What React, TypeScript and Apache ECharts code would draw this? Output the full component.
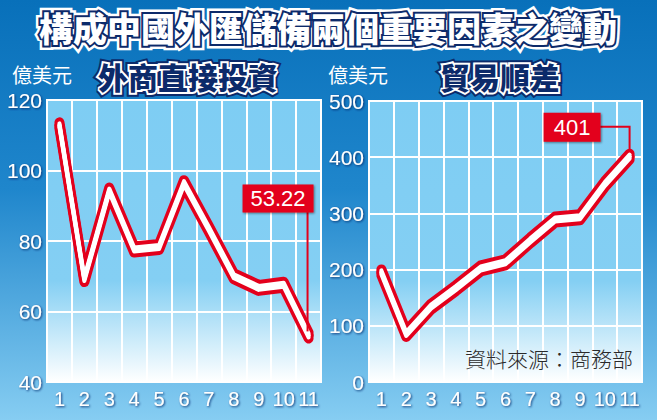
import React, { useEffect, useRef } from 'react';
import * as echarts from 'echarts';

const categories = ['1', '2', '3', '4', '5', '6', '7', '8', '9', '10', '11'];
const fdiValues = [112.8, 69.2, 94.3, 77.6, 78.3, 96.4, 83.4, 70.0, 66.7, 67.6, 53.22];
const tradeValues = [195, 85.5, 134, 167, 202, 213, 252, 289, 293, 352, 401];
const titleText = '構成中國外匯儲備兩個重要因素之變動';
const leftSubtitle = '外商直接投資';
const rightSubtitle = '貿易順差';
const unitText = '億美元';
const sourceText = '資料來源：商務部';
const leftCallout = '53.22';
const rightCallout = '401';

const NAVY = '#0c2a6a';
const RED = '#e3001b';
const CJK = '"Noto Sans CJK TC", "Noto Sans CJK SC", sans-serif';
const NUM = '"Liberation Sans", Arial, sans-serif';

export default function App() {
  const ref = useRef<HTMLDivElement>(null);
  useEffect(() => {
    document.body.style.margin = '0';
    const chart = echarts.init(ref.current!, null, { renderer: 'svg' });
    const plotBg = {
      type: 'linear', x: 0, y: 0, x2: 0, y2: 1,
      colorStops: [
        { offset: 0, color: '#7ecdf3' },
        { offset: 0.64, color: '#84cff3' },
        { offset: 1, color: '#ffffff' },
      ],
    };
    const labelStyle = {
      color: '#fff',
      fontFamily: NUM,
      textShadowColor: 'rgba(8,45,110,0.9)',
      textShadowBlur: 2,
      textShadowOffsetX: 1,
      textShadowOffsetY: 1,
    };
    const xAxisBase = {
      type: 'category',
      data: categories,
      boundaryGap: true,
      axisLine: { show: false },
      axisTick: { show: false },
      axisLabel: { ...labelStyle, fontSize: 20, margin: 7, interval: 0 },
      splitLine: { show: true, lineStyle: { color: '#fff', width: 2 } },
    };
    const yAxisBase = {
      type: 'value',
      axisLine: { show: false },
      axisTick: { show: false },
      axisLabel: { ...labelStyle, fontSize: 21, margin: 5 },
      splitLine: { show: true, lineStyle: { color: '#fff', width: 2 } },
    };
    // Ribbon look: each stroke is drawn twice with a vertical shadow copy above and below.
    const layer = (idx: number, data: number[], color: string, width: number, off: number, z: number) => ({
      type: 'line', xAxisIndex: idx, yAxisIndex: idx, data, symbol: 'none', silent: true,
      lineStyle: {
        color, width, cap: 'round', join: 'round',
        shadowColor: color, shadowBlur: 0, shadowOffsetX: 0, shadowOffsetY: off,
      },
      z,
    });
    const lineSeries = (idx: number, data: number[]) => [
      layer(idx, data, RED, 10, 3, 3),
      layer(idx, data, RED, 10, -3, 3),
      layer(idx, data, '#fff', 4, 2, 4),
      layer(idx, data, '#fff', 4, -2, 4),
    ];
    chart.setOption({
      animation: false,
      backgroundColor: {
        type: 'linear', x: 0, y: 0, x2: 0, y2: 1,
        colorStops: [
          { offset: 0, color: '#0870ba' },
          { offset: 0.45, color: '#1f86cc' },
          { offset: 1, color: '#86cdf2' },
        ],
      },
      grid: [
        { left: 47, right: 336, top: 100, bottom: 38, show: true, borderColor: '#fff', borderWidth: 2, backgroundColor: plotBg },
        { left: 369, right: 15, top: 101, bottom: 38, show: true, borderColor: '#fff', borderWidth: 2, backgroundColor: plotBg },
      ],
      xAxis: [
        { ...xAxisBase, gridIndex: 0 },
        { ...xAxisBase, gridIndex: 1 },
      ],
      yAxis: [
        { ...yAxisBase, gridIndex: 0, min: 40, max: 120, interval: 20 },
        { ...yAxisBase, gridIndex: 1, min: 0, max: 500, interval: 100 },
      ],
      series: [...lineSeries(0, fdiValues), ...lineSeries(1, tradeValues)],
    });

    const p1 = chart.convertToPixel({ gridIndex: 0 }, [10, fdiValues[10]]) as number[];
    const p2 = chart.convertToPixel({ gridIndex: 1 }, [10, tradeValues[10]]) as number[];

    const boxShadow = { shadowColor: 'rgba(0,0,0,0.45)', shadowBlur: 2, shadowOffsetX: 1, shadowOffsetY: 1 };

    chart.setOption({
      graphic: [
        {
          type: 'text', x: 328, y: 27, z: 10,
          style: {
            text: titleText, align: 'center', verticalAlign: 'middle',
            font: `900 34px ${CJK}`, fill: NAVY, stroke: '#ffffff', lineWidth: 9,
          },
        },
        {
          type: 'text', x: 328, y: 27, z: 11,
          style: {
            text: titleText, align: 'center', verticalAlign: 'middle',
            font: `900 34px ${CJK}`, fill: '#ffffff', stroke: NAVY, lineWidth: 4,
          },
        },
        { type: 'text', x: 12, y: 74, style: { text: unitText, verticalAlign: 'middle', font: `20px ${CJK}`, fill: '#fff' } },
        { type: 'text', x: 328, y: 74, style: { text: unitText, verticalAlign: 'middle', font: `20px ${CJK}`, fill: '#fff' } },
        ...[[188, leftSubtitle], [500, rightSubtitle]].flatMap(([x, t]) => [
          {
            type: 'text', x, y: 76, z: 10,
            style: { text: t, align: 'center', verticalAlign: 'middle', font: `900 30px ${CJK}`, fill: NAVY, stroke: NAVY, lineWidth: 8 },
          },
          {
            type: 'text', x, y: 76, z: 11,
            style: { text: t, align: 'center', verticalAlign: 'middle', font: `900 30px ${CJK}`, fill: NAVY, stroke: '#fff', lineWidth: 4 },
          },
        ]),
        {
          type: 'polyline', z: 20,
          shape: { points: [[p1[0] - 1, p1[1] - 124], [p1[0] - 1, p1[1] - 4]] },
          style: { stroke: RED, lineWidth: 2, fill: null },
        },
        {
          type: 'rect', z: 21,
          shape: { x: p1[0] - 66, y: p1[1] - 151, width: 71, height: 28 },
          style: { fill: RED, ...boxShadow },
        },
        {
          type: 'text', z: 22, x: p1[0] - 30.5, y: p1[1] - 137,
          style: { text: leftCallout, align: 'center', verticalAlign: 'middle', font: `22px ${NUM}`, fill: '#fff' },
        },
        {
          type: 'polyline', z: 20,
          shape: { points: [[p2[0] - 30, p2[1] - 30], [p2[0], p2[1] - 30], [p2[0], p2[1] - 6]] },
          style: { stroke: RED, lineWidth: 2, fill: null },
        },
        {
          type: 'rect', z: 21,
          shape: { x: p2[0] - 86, y: p2[1] - 44, width: 57, height: 29 },
          style: { fill: RED, ...boxShadow },
        },
        {
          type: 'text', z: 22, x: p2[0] - 57.5, y: p2[1] - 29.5,
          style: { text: rightCallout, align: 'center', verticalAlign: 'middle', font: `22px ${NUM}`, fill: '#fff' },
        },
        {
          type: 'text', x: 633, y: 358, z: 15,
          style: { text: sourceText, align: 'right', verticalAlign: 'middle', font: `300 21px ${CJK}`, fill: '#2a2a2a' },
        },
      ],
    });
    return () => chart.dispose();
  }, []);
  return <div ref={ref} style={{ width: 657, height: 420 }} />;
}
